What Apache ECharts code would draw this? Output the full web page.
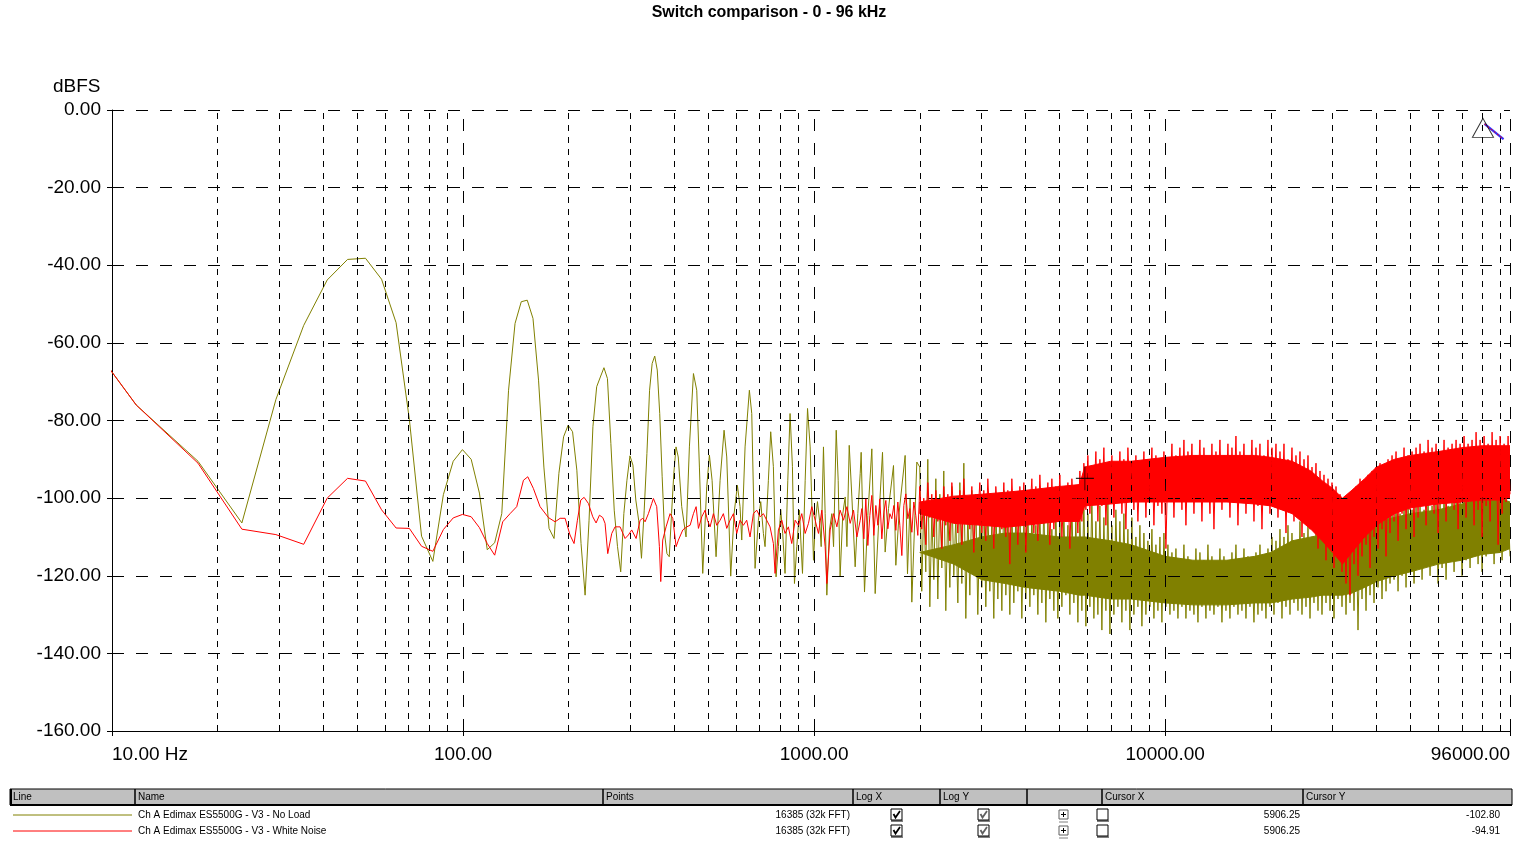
<!DOCTYPE html>
<html><head><meta charset="utf-8">
<script src="https://cdn.jsdelivr.net/npm/echarts@6/dist/echarts.min.js"></script>
<style>html,body{margin:0;padding:0;background:#fff}#c{width:1538px;height:866px}</style>
</head><body><div id="c"></div>
<script>
// ---------- text ----------
const chartTitle = 'Switch comparison - 0 - 96 kHz';
const yAxisTitle = 'dBFS';
const seriesNames = ['Ch A Edimax ES5500G - V3 - No Load', 'Ch A Edimax ES5500G - V3 - White Noise'];
const seriesColors = ['#808000', '#ff0000'];
const tableHeaders = ['Line', 'Name', 'Points', 'Log X', 'Log Y', '', 'Cursor X', 'Cursor Y'];
const pointsText = ['16385 (32k FFT)', '16385 (32k FFT)'];
const cursorXText = ['5906.25', '5906.25'];
const cursorYText = ['-102.80', '-94.91'];
const cursorPoint = [5906.25, -94.91];

// ---------- axes ----------
const xMin = 10, xMax = 96000;
const yMin = -160, yMax = 0, yStep = 20;
const yGridValues = [0, -20, -40, -60, -80, -100, -120, -140];
const decadeGridHz = [100, 1000, 10000, 96000];
const minorGridHz = [20, 30, 40, 50, 60, 70, 80, 90, 200, 300, 400, 500, 600, 700, 800, 900,
  2000, 3000, 4000, 5000, 6000, 7000, 8000, 9000, 20000, 30000, 40000, 50000, 60000, 70000, 80000, 90000];

// ---------- No Load (olive): low-frequency trace [Hz, dBFS] ----------
const noLoadLow = [
 [5.859,-39],[11.72,-76],[17.58,-90.5],[23.44,-106.4],[29.30,-74.6],[35.16,-55.5],[41.02,-43.8],[46.88,-38.5],
 [52.73,-38.2],[58.59,-43.6],[64.45,-54.8],[70.31,-79.7],[76.17,-109.8],[82.03,-116.3],[87.89,-99.1],[93.75,-90.5],
 [99.61,-87.5],[105.47,-90],[111.33,-98.7],[117.19,-113.3],[123.05,-111.5],[128.91,-104],[134.77,-72.2],[140.63,-55],
 [146.48,-49.4],[152.34,-49],[158.20,-53.7],[164.06,-69.6],[169.92,-92],[175.78,-107.8],[181.64,-110.4],[187.5,-93.6],
 [193.36,-84.2],[199.22,-81.2],[205.08,-82.9],[210.94,-92.8],[216.80,-111.7],[222.66,-125],[228.52,-105.7],[234.38,-81.6],
 [240.23,-71.3],[246.09,-68.8],[251.95,-66.4],[257.81,-69.2],[263.67,-85.9],[269.53,-103.1],[275.39,-112.5],[281.25,-119],
 [287.11,-104],[292.97,-95.4],[298.83,-89.1],[304.69,-91.5],[310.55,-100.5],[316.41,-105.7],[322.27,-115.5],[328.13,-103.1],
 [333.98,-88.5],[339.84,-72.2],[345.70,-65.3],[351.56,-63.4],[357.42,-67],[363.28,-78.2],[369.14,-94.5],[375,-109.1],
 [380.86,-114.3],[386.72,-115.1],[392.58,-104],[398.44,-93.6],[404.30,-86.8],[410.16,-89.4],
 [419.6,-102.2],[431.7,-110],[441.3,-86.8],[453.2,-67.9],[463.1,-72.2],[471.3,-92],[481.7,-119.4],[494.5,-97.1],
 [503.2,-88.9],[512.1,-95.4],[525.7,-115.1],[539.7,-95.4],[554,-82.5],[563.8,-89.4],[578.7,-120.1],[591.6,-104],
 [604.6,-96.7],[615.2,-102.2],[622.1,-110.8],[635.8,-86.8],[654,-72.2],[664.3,-78.2],[678.9,-118.1],[693.9,-105.7],
 [704.6,-100.9],[717,-109.1],[724.9,-112.5],[740.9,-95.4],[752.3,-82.9],[765.6,-91.9],[779.1,-120.3],[791.1,-112.5],
 [803.3,-102.9],[813.9,-109.1],[826.4,-119.4],[841.5,-95.4],[854,-78.2],[867.4,-91.9],[879.1,-122],[892.6,-112.5],
 [908.4,-103.1],[916.4,-110.8],[926.6,-119.4],[943.1,-95.4],[957.8,-76.9],[974.3,-86.8],[995.8,-116],[1009,-105.7],
 [1022.4,-100.9],[1036,-105.7],[1047.4,-112.5],[1063.4,-86.8],[1075.1,-104],[1087,-125],[1106,-108.2],[1123.3,-104],
 [1136,-112.5],[1156,-82.5],[1171,-95.4],[1186,-120.3],[1207,-104],[1226,-99.7],[1240,-112.5],[1259,-86.4],
 [1281,-99.7],[1309,-117.7],[1332,-104],[1353,-93.6],[1361.6,-88.2],[1391.7,-124.2],[1422.5,-104.5],[1460.3,-87.3],
 [1492.6,-124.6],[1525.6,-107],[1566.1,-88.2],[1593.7,-113.9],[1628.9,-102.7],[1683.3,-91.6],[1709.2,-117.3],[1747,-103.6],
 [1816.9,-89],[1845,-119.5],[1877.6,-100.2],[1898.2,-126.8],[1961.5,-90.7]
];

// ---------- White Noise (red): low-frequency trace [Hz, dBFS] ----------
const whiteNoiseLow = [
 [5.859,-39],[11.72,-76],[17.58,-91],[23.44,-108],[29.30,-109.4],[35.16,-111.9],[41.02,-100],[46.88,-94.9],
 [52.73,-95.6],[58.59,-103],[64.45,-107.7],[70.31,-107.8],[76.17,-112.4],[82.03,-113.7],[87.89,-108.1],[93.75,-105.1],
 [99.61,-104.2],[105.47,-104.8],[111.33,-107.6],[117.19,-111.7],[123.05,-114.7],
 [129.7,-106.1],[136.1,-104],[142.2,-102.2],[148.6,-95.4],[152.9,-94.5],[158.6,-97.5],[165.7,-102.2],[175,-105],
 [182.9,-106.1],[189,-105.2],[195.3,-105.2],[201.7,-109.5],[207.1,-111.7],[211.7,-105.7],[216.4,-100.5],[221.2,-99.8],
 [227.6,-101.4],[234.1,-104.8],[239.3,-106.4],[244.6,-104.4],[250,-105],[253.8,-106.5],[258.3,-114.3],[265.2,-109.1],
 [271,-107.4],[280.1,-107.4],[289.4,-110.4],[295.8,-109.5],[302.3,-108.2],[311.1,-110.4],[319.4,-105.7],[325,-105.2],
 [330,-106.1],[337.3,-104],[344.7,-101.4],[348.5,-100.1],[356.2,-102.2],[362.5,-112.5],[365.7,-121.5],[370.5,-110.8],
 [378.7,-107.4],[388.8,-104],[395.7,-105.2],[404.5,-112.5],[410.7,-110.8],[422.6,-108.2],[433.8,-107.4],[443.4,-107],
 [453.2,-104],[461.2,-102.2],[468.3,-107.8],[478.7,-104.8],[489.3,-103.1],[496.8,-105.7],[505.4,-107.4],[516.6,-104],
 [528,-107],[539.7,-105.7],[551.5,-104],[563.8,-107.8],[576.1,-105.7],[589,-104],[602,-109.1],[615.2,-105.7],
 [628.9,-107],[642.7,-105.7],[656.9,-110],[671.5,-104],[686.3,-103.1],[701.5,-104.8],[717,-104],[732.8,-105.7],
 [749,-107.4],[765.6,-111.7],[774,-119.4],[791.1,-108.2],[808.7,-105.7],[826.4,-109.1],[844.7,-107.4],[863.6,-111.7],
 [883,-105.7],[902.5,-107],[922.4,-104],[943.1,-109.1],[963.7,-106.5],[985,-102.2],[1006.8,-105.7],[1029,-109.1],
 [1051.9,-103.1],[1075.1,-112.5],[1087,-122],[1111,-108.2],[1136,-104],[1161,-107.4],[1186,-103.1],[1213,-105.7],
 [1240,-102.2],[1267,-106.5],[1295,-103.1],[1324,-110],[1353,-105.7],
 [1367.6,-102.7],[1385.6,-110.5],[1403.9,-100.2],[1422.5,-112.2],[1441.3,-104.5],[1460.3,-99.3],[1479.6,-109.6],[1499.1,-101.9],
 [1518.9,-107],[1539,-100.2],[1559.3,-110.5],[1579.9,-103.6],[1600.8,-100.6],[1621.9,-107.9],[1643.3,-104],[1665,-105.3],
 [1687,-101.9],[1709.2,-108.3],[1731.8,-101],[1754.6,-107],[1777.8,-114.8],[1801.3,-101.9],[1825.1,-98.9],[1849.1,-105.3],
 [1873.5,-102.7],[1898.3,-108.8],[1923.3,-101],[1948.7,-104.5],[1974.4,-109.6]
];

// ---------- dense (noise) region: trace readings at ~2 px steps ----------
const denseHz = [2000,2026,2053,2080,2108,2136,2164,2193,2222,2251,2281,2311,2341,2372,2404,2436,2468,2500,2533,2567,
 2601,2635,2670,2705,2741,2777,2814,2851,2888,2926,2965,3004,3044,3084,3125,3166,3208,3250,3293,3337,
 3381,3426,3471,3517,3563,3610,3658,3706,3755,3805,3855,3906,3958,4010,4063,4117,4171,4226,4282,4339,
 4396,4454,4513,4572,4633,4694,4756,4819,4883,4947,5013,5079,5146,5214,5283,5353,5423,5495,5567,5641,
 5715,5791,5867,5945,6023,6103,6183,6265,6348,6432,6517,6603,6690,6779,6868,6959,7051,7144,7238,7334,
 7431,7529,7628,7729,7831,7935,8039,8146,8253,8362,8473,8585,8698,8813,8929,9047,9167,9288,9411,9535,
 9661,9789,9918,10049,10182,10317,10453,10591,10731,10873,11016,11162,11309,11459,11610,11764,11919,12077,12236,12398,
 12561,12727,12895,13066,13238,13413,13590,13770,13952,14136,14323,14512,14704,14898,15095,15294,15496,15701,15908,16118,
 16331,16547,16766,16988,17212,17439,17669,17903,18139,18379,18622,18868,19117,19370,19626,19885,20148,20414,20684,20957,
 21234,21515,21799,22087,22378,22674,22974,23277,23585,23896,24212,24532,24856,25184,25517,25854,26196,26542,26893,27248,
 27608,27973,28342,28717,29096,29481,29870,30265,30664,31069,31480,31896,32317,32744,33177,33615,34059,34509,34965,35427,
 35895,36369,36850,37337,37830,38330,38836,39349,39869,40396,40929,41470,42018,42573,43135,43705,44283,44868,45461,46061,
 46670,47286,47911,48544,49185,49835,50493,51160,51836,52521,53215,53918,54631,55352,56084,56825,57575,58336,59107,59888,
 60679,61481,62293,63116,63950,64795,65651,66518,67397,68287,69189,70103,71030,71968,72919,73882,74858,75847,76849,77864,
 78893,79935,80992,82062,83146,84244,85357,86484,87628,88785,89958,91146,92351,93571,94807,96000];

const whiteNoiseDense = [
 -97,-108,-100,-112,-96,-105,-99,-110,-98,-106,
 -101,-113,-97,-107,-99,-111,-96,-104,-100,-109,
 -98,-112,-95,-106,-101,-108,-97,-114,-99,-105,
 -96,-109,-98,-111,-95,-106,-99,-113,-97,-105,
 -100,-108,-96,-110,-98,-117,-95,-107,-99,-112,
 -97,-106,-96,-114,-98,-104,-95,-109,-97,-111,
 -94,-106,-98,-103,-96,-112,-95,-108,-97,-105,
 -94,-110,-99,-106,-96,-113,-95,-104,-97,-109,
 -93,-106,-91,-103,-89,-104,-92,-100,-88,-106,
 -90,-102,-87,-107,-91,-99,-89,-105,-92,-101,
 -88,-104,-90,-108,-87,-100,-91,-103,-89,-106,
 -92,-101,-88,-105,-90,-99,-87,-107,-89,-102,
 -91,-104,-88,-113,-90,-100,-86,-105,-89,-99,
 -87,-103,-85,-107,-88,-100,-86,-104,-89,-98,
 -85,-106,-87,-101,-90,-104,-86,-108,-88,-100,
 -85,-103,-89,-99,-86,-105,-87,-101,-84,-107,
 -88,-100,-86,-104,-90,-98,-85,-106,-87,-102,
 -86,-108,-89,-101,-85,-104,-87,-99,-86,-105,
 -88,-103,-86,-109,-90,-101,-87,-106,-89,-104,
 -88,-110,-90,-105,-89,-108,-92,-106,-91,-113,
 -93,-109,-94,-116,-95,-112,-96,-118,-97,-114,
 -99,-119,-101,-122,-100,-125,-98,-117,-97,-120,
 -95,-115,-96,-112,-94,-118,-93,-110,-92,-113,
 -91,-108,-93,-115,-90,-109,-89,-106,-88,-111,
 -90,-104,-87,-108,-89,-103,-88,-110,-87,-105,
 -86,-102,-88,-107,-85,-100,-87,-104,-86,-109,
 -88,-101,-85,-106,-87,-99,-86,-103,-85,-108,
 -86,-101,-84,-105,-86,-99,-85,-107,-83,-103,
 -85,-110,-84,-102,-86,-106,-83,-100,-85,-112,
 -84,-104,-86,-101,-84,-99];
const noLoadDense = [
 -92,-124,-101,-119,-90,-128,-104,-121,-95,-126,
 -99,-118,-93,-129,-102,-123,-97,-120,-105,-127,
 -96,-122,-91,-131,-103,-125,-98,-119,-100,-130,
 -104,-123,-99,-128,-102,-124,-106,-131,-100,-126,
 -103,-129,-98,-125,-105,-130,-101,-127,-104,-124,
 -99,-131,-106,-126,-102,-128,-104,-125,-107,-130,
 -103,-127,-101,-132,-105,-126,-108,-129,-102,-131,
 -106,-128,-104,-125,-107,-130,-101,-127,-105,-132,
 -103,-129,-100,-133,-104,-128,-99,-131,-106,-130,
 -102,-134,-105,-129,-101,-135,-107,-130,-103,-128,
 -106,-132,-104,-129,-108,-134,-105,-130,-110,-128,
 -107,-133,-109,-130,-111,-128,-108,-131,-112,-129,
 -110,-132,-109,-128,-112,-130,-114,-129,-113,-131,
 -116,-128,-112,-131,-115,-129,-117,-130,-113,-132,
 -114,-128,-116,-131,-112,-129,-115,-130,-117,-128,
 -113,-132,-115,-129,-116,-131,-114,-128,-112,-130,
 -116,-129,-113,-131,-115,-128,-117,-132,-114,-130,
 -112,-129,-115,-131,-113,-128,-110,-130,-111,-127,
 -108,-131,-110,-128,-107,-130,-109,-127,-111,-129,
 -106,-130,-109,-128,-107,-131,-110,-127,-108,-129,
 -106,-130,-109,-127,-105,-129,-108,-131,-107,-126,
 -109,-128,-106,-130,-108,-127,-105,-129,-104,-134,
 -107,-126,-105,-129,-104,-125,-106,-127,-103,-123,
 -105,-126,-102,-124,-104,-122,-103,-121,-101,-124,
 -104,-120,-102,-123,-101,-119,-103,-122,-102,-118,
 -101,-121,-103,-117,-100,-120,-102,-116,-100,-122,
 -101,-118,-99,-121,-102,-116,-100,-119,-99,-115,
 -101,-120,-98,-116,-100,-118,-97,-114,-99,-117,
 -98,-119,-97,-115,-100,-113,-99,-117,-98,-114,
 -100,-116,-99,-113,-101,-115];

// ---------- dense region: solid core of each trace ----------
const coreHz = [2000,2500,3000,3500,4000,5000,5700,5900,7000,8000,10000,12000,15000,18000,20000,23000,26000,28000,
 30000,32000,34000,37000,40000,45000,50000,60000,70000,80000,90000,96000];
const whiteNoiseCoreHi = [-101,-99.5,-99,-98.5,-98,-97,-96.5,-92,-90.5,-90.5,-89.5,-89,-89,-89,-89.5,-90.5,-93,-95.5,
 -97.5,-100,-98,-95,-92,-90,-89,-88,-87,-86.5,-86.5,-86.5];
const whiteNoiseCoreLo = [-104,-106.5,-107,-107.5,-107,-106,-106,-102,-101.5,-101,-101,-101,-101,-101.5,-102,-104,-108,
 -111,-114,-117,-114,-110,-107,-104,-102.5,-101.5,-101,-100.5,-100.5,-100];
const noLoadCoreHi = [-114,-112,-110,-109,-109,-110,-110,-110,-111,-112,-115,-116,-116,-115,-114,-111,-110,-109.5,-109,
 -108.5,-108,-107,-106,-105,-104,-103,-101.5,-100,-100,-101];
const noLoadCoreLo = [-114,-117,-121,-122,-123,-124,-125,-125,-126,-126,-127,-127.5,-127.5,-127,-127,-126,-125.5,-125,
 -125,-125,-124.5,-123,-121.5,-120,-119,-117,-116,-114.5,-114,-113];

// ---------- top-right marker ----------
const markerTriangle = [80400, -4.6];
const markerSlash = [[81220, -3.6], [92000, -7.5]];

// ================= build =================
const FONT = '"Liberation Sans", Arial, sans-serif';
function buildTrace(low, hz, vals) {
  const out = low.slice();
  for (let i = 0; i < hz.length; i++) out.push([hz[i], vals[i]]);
  return out;
}
function coreSeries(name, color, hi, lo, z) {
  return {
    type: 'custom', name, z, silent: true, animation: false, clip: true,
    data: coreHz.map((f, i) => [f, hi[i]]),
    renderItem: (params, api) => {
      if (params.dataIndex !== 0) return null;
      const pts = [];
      for (let i = 0; i < coreHz.length; i++) pts.push(api.coord([coreHz[i], hi[i]]));
      for (let i = coreHz.length - 1; i >= 0; i--) pts.push(api.coord([coreHz[i], lo[i]]));
      return { type: 'polygon', shape: { points: pts }, style: { fill: color, stroke: color, lineWidth: 1 } };
    }
  };
}
const gridLines = [];
yGridValues.forEach(v => gridLines.push({ yAxis: v, lineStyle: { type: [12, 12], color: '#000', width: 1 } }));
decadeGridHz.forEach(v => gridLines.push({ xAxis: v, lineStyle: { type: [12, 12], color: '#000', width: 1 } }));
minorGridHz.forEach(v => gridLines.push({ xAxis: v, lineStyle: { type: [6, 6], color: '#000', width: 1 } }));

// table graphic
const tX = [10, 135, 603, 853, 940, 1027, 1102, 1303], tRight = 1512, hTop = 789, hBot = 805, rowY = [815, 831];
const g = [];
g.push({ type: 'rect', shape: { x: tX[0], y: hTop, width: tRight - tX[0], height: hBot - hTop }, style: { fill: '#c0c0c0', stroke: '#000', lineWidth: 1 } });
g.push({ type: 'line', shape: { x1: tX[0], y1: hBot, x2: tRight, y2: hBot }, style: { stroke: '#000', lineWidth: 2 } });
g.push({ type: 'line', shape: { x1: tX[0] + 1, y1: hTop, x2: tX[0] + 1, y2: hBot }, style: { stroke: '#000', lineWidth: 2 } });
tX.forEach((x, i) => {
  if (i > 0) g.push({ type: 'line', shape: { x1: x, y1: hTop, x2: x, y2: hBot }, style: { stroke: '#000', lineWidth: 1.5 } });
  if (tableHeaders[i]) g.push({ type: 'text', x: x + 3, y: hTop + 8, style: { text: tableHeaders[i], font: '10px ' + FONT, fill: '#000', align: 'left', verticalAlign: 'middle' } });
});
function checkbox(x, y, checked, checkColor) {
  g.push({ type: 'rect', shape: { x, y: y - 6, width: 11, height: 11 }, style: { fill: '#fff', stroke: '#000', lineWidth: 1 } });
  g.push({ type: 'line', shape: { x1: x, y1: y + 6, x2: x + 12, y2: y + 6 }, style: { stroke: '#000', lineWidth: 1 } });
  if (checked) g.push({ type: 'polyline', shape: { points: [[x + 2.5, y - 1], [x + 4.5, y + 2.5], [x + 9, y - 4]] }, style: { stroke: checkColor, lineWidth: 1.8, fill: null } });
}
rowY.forEach((y, r) => {
  g.push({ type: 'line', shape: { x1: 13, y1: y, x2: 132, y2: y }, style: { stroke: seriesColors[r], lineWidth: 1 } });
  g.push({ type: 'text', x: 138, y, style: { text: seriesNames[r], font: '10px ' + FONT, fill: '#000', align: 'left', verticalAlign: 'middle' } });
  g.push({ type: 'text', x: 850, y, style: { text: pointsText[r], font: '10px ' + FONT, fill: '#000', align: 'right', verticalAlign: 'middle' } });
  checkbox(891, y, true, '#000');
  checkbox(978, y, true, '#606060');
  g.push({ type: 'rect', shape: { x: 1059, y: y - 5, width: 9, height: 9 }, style: { fill: '#fff', stroke: '#606060', lineWidth: 1 } });
  g.push({ type: 'line', shape: { x1: 1061, y1: y - 0.5, x2: 1066, y2: y - 0.5 }, style: { stroke: '#000', lineWidth: 1 } });
  g.push({ type: 'line', shape: { x1: 1063.5, y1: y - 3, x2: 1063.5, y2: y + 2 }, style: { stroke: '#000', lineWidth: 1 } });
  g.push({ type: 'line', shape: { x1: 1059, y1: y + 7, x2: 1068, y2: y + 7 }, style: { stroke: '#808080', lineWidth: 1 } });
  checkbox(1097, y, false, '#000');
  g.push({ type: 'text', x: 1300, y, style: { text: cursorXText[r], font: '10px ' + FONT, fill: '#000', align: 'right', verticalAlign: 'middle' } });
  g.push({ type: 'text', x: 1500, y, style: { text: cursorYText[r], font: '10px ' + FONT, fill: '#000', align: 'right', verticalAlign: 'middle' } });
});
g.push({ type: 'text', x: 53, y: 87, style: { text: yAxisTitle, font: '19px ' + FONT, fill: '#000', align: 'left', verticalAlign: 'middle' } });

const chart = echarts.init(document.getElementById('c'), null, { renderer: 'canvas' });
chart.setOption({
  backgroundColor: '#fff',
  animation: false,
  title: { text: chartTitle, left: 'center', top: 0, textStyle: { fontSize: 16, fontWeight: 'bold', fontFamily: FONT, color: '#000' } },
  grid: { left: 112, right: 28, top: 110, bottom: 135, containLabel: false },
  xAxis: {
    type: 'log', logBase: 10, min: xMin, max: xMax,
    axisLine: { show: true, onZero: false, lineStyle: { color: '#000', width: 1 } },
    axisTick: { show: true, length: 5, lineStyle: { color: '#000' } },
    splitLine: { show: false }, minorTick: { show: false },
    axisLabel: {
      show: true, margin: 14, color: '#000', fontSize: 19, fontFamily: FONT,
      showMinLabel: true, showMaxLabel: true, alignMinLabel: 'left', alignMaxLabel: 'right',
      formatter: v => { const r = Math.round(v); return r === 10 ? '10.00 Hz' : r.toFixed(2); }
    }
  },
  yAxis: {
    type: 'value', min: yMin, max: yMax, interval: yStep,
    axisLine: { show: true, lineStyle: { color: '#000', width: 1 } },
    axisTick: { show: true, length: 5, lineStyle: { color: '#000' } },
    splitLine: { show: false },
    axisLabel: { margin: 11, color: '#000', fontSize: 19, fontFamily: FONT, formatter: v => v.toFixed(2) }
  },
  graphic: g,
  series: [
    coreSeries('noLoadCore', seriesColors[0], noLoadCoreHi, noLoadCoreLo, 2),
    { type: 'line', name: seriesNames[0], z: 3, data: buildTrace(noLoadLow, denseHz, noLoadDense),
      showSymbol: false, symbol: 'none', sampling: null, clip: true, silent: true,
      lineStyle: { color: seriesColors[0], width: 1 } },
    coreSeries('whiteNoiseCore', seriesColors[1], whiteNoiseCoreHi, whiteNoiseCoreLo, 4),
    { type: 'line', name: seriesNames[1], z: 5, data: buildTrace(whiteNoiseLow, denseHz, whiteNoiseDense),
      showSymbol: false, symbol: 'none', sampling: null, clip: true, silent: true,
      lineStyle: { color: seriesColors[1], width: 1 } },
    { type: 'line', name: 'grid', z: 8, data: [], silent: true,
      markLine: { silent: true, symbol: ['none', 'none'], animation: false, label: { show: false }, emphasis: { disabled: true }, data: gridLines } },
    { type: 'scatter', name: 'cursor', z: 9, silent: true, data: [cursorPoint],
      symbol: 'path://M0,12L18,12M9,0L9,24', symbolSize: [18, 24], symbolKeepAspect: false,
      itemStyle: { color: 'rgba(0,0,0,0)', borderColor: '#000', borderWidth: 1 } },
    { type: 'scatter', name: 'marker', z: 9, silent: true, data: [markerTriangle],
      symbol: 'triangle', symbolSize: [21, 19],
      itemStyle: { color: 'rgba(0,0,0,0)', borderColor: '#000', borderWidth: 1 } },
    { type: 'line', name: 'markerSlashB', z: 9, silent: true, data: markerSlash, symbol: 'none',
      lineStyle: { color: '#3030ff', width: 2.2 } },
    { type: 'line', name: 'markerSlashR', z: 10, silent: true, data: markerSlash, symbol: 'none',
      lineStyle: { color: '#ff0000', width: 1, type: [2, 2] } }
  ]
});
</script>
</body></html>
